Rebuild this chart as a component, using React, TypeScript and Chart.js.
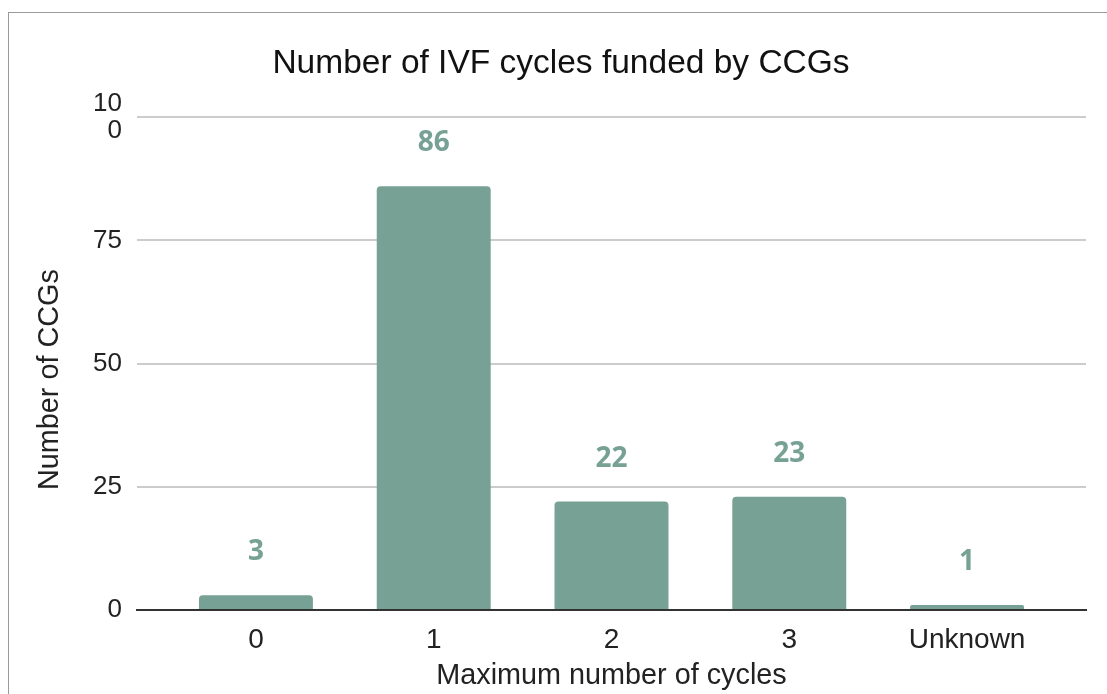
import React, { useEffect, useRef } from "react";
import { Chart, registerables } from "chart.js";

Chart.register(...registerables);

const categories = ["0", "1", "2", "3", "Unknown"];
const ccgCounts = [3, 86, 22, 23, 1];
const yTicks = [0, 25, 50, 75, 100];

const BAR_COLOR = "#76a194";
const FONT = "'Liberation Sans', Arial, sans-serif";

const valueLabels = {
  id: "valueLabels",
  afterDatasetsDraw(chart: any) {
    const ctx = chart.ctx;
    const meta = chart.getDatasetMeta(0);
    ctx.save();
    ctx.fillStyle = BAR_COLOR;
    ctx.font = "bold 28px 'Open Sans'";
    ctx.textAlign = "center";
    ctx.textBaseline = "middle";
    meta.data.forEach((bar: any, i: number) => {
      ctx.fillText(String(ccgCounts[i]), bar.x, bar.y - 43);
    });
    ctx.restore();
  },
};

export default function App() {
  const ref = useRef<HTMLCanvasElement | null>(null);
  useEffect(() => {
    if (!ref.current) return;
    const chart = new Chart(ref.current, {
      type: "bar",
      data: {
        datasets: [
          {
            data: ccgCounts.map((v, i) => ({ x: i, y: v })),
            backgroundColor: BAR_COLOR,
            borderRadius: 4,
            borderSkipped: "start",
            categoryPercentage: 1,
            barPercentage: 0.641,
          },
        ],
      },
      plugins: [valueLabels],
      options: {
        responsive: false,
        animation: false,
        layout: { padding: { left: 36, right: 21, top: 0, bottom: 0 } },
        plugins: {
          legend: { display: false },
          tooltip: { enabled: false },
          title: {
            display: true,
            text: "Number of IVF cycles funded by CCGs",
            color: "#111",
            font: { family: FONT, size: 33.5, weight: "normal" },
            padding: { top: 44, bottom: 33 },
          },
        },
        scales: {
          x: {
            type: "linear",
            offset: false,
            min: -0.669,
            max: categories.length - 1 + 0.669,
            afterFit: (s: any) => {
              s.height = 84;
            },
            afterBuildTicks: (s: any) => {
              s.ticks = categories.map((_, i) => ({ value: i }));
            },
            grid: { display: false, drawTicks: false },
            border: { display: true, color: "#333", width: 2 },
            ticks: {
              color: "#222",
              padding: 13,
              font: { family: FONT, size: 28 },
              callback: (v: any) => categories[Math.round(v)] ?? "",
            },
            title: {
              display: true,
              text: "Maximum number of cycles",
              color: "#222",
              font: { family: FONT, size: 28.8 },
              padding: { top: 0, bottom: 1 },
            },
          },
          y: {
            min: 0,
            max: 100,
            afterFit: (s: any) => {
              s.width = 101;
            },
            afterBuildTicks: (s: any) => {
              s.ticks = yTicks.map((v) => ({ value: v }));
            },
            grid: {
              color: "#cccccc",
              lineWidth: 2,
              drawTicks: false,
            },
            border: { display: false },
            ticks: {
              color: "#222",
              padding: 15,
              font: { family: FONT, size: 26, lineHeight: 1.05 },
              callback: (v: any) => (v === 100 ? ["10", "0"] : String(v)),
            },
            title: {
              display: true,
              text: "Number of CCGs\u00a0\u00a0\u00a0\u00a0",
              color: "#222",
              font: { family: FONT, size: 28.8, lineHeight: 1 },
              padding: { top: 0, bottom: 0 },
            },
          },
        },
      },
    } as any);
    return () => chart.destroy();
  }, []);

  return (
    <div
      style={{
        position: "fixed",
        left: 0,
        top: 0,
        width: 1107,
        height: 694,
        background: "#fff",
        overflow: "hidden",
      }}
    >
      <div
        style={{
          position: "absolute",
          left: 8,
          top: 12,
          width: 1200,
          height: 800,
          borderLeft: "1px solid #9a9a9a",
          borderTop: "1px solid #9a9a9a",
        }}
      />
      <canvas
        ref={ref}
        width={1107}
        height={694}
        style={{ position: "absolute", left: 0, top: 0, width: 1107, height: 694 }}
      />
    </div>
  );
}
